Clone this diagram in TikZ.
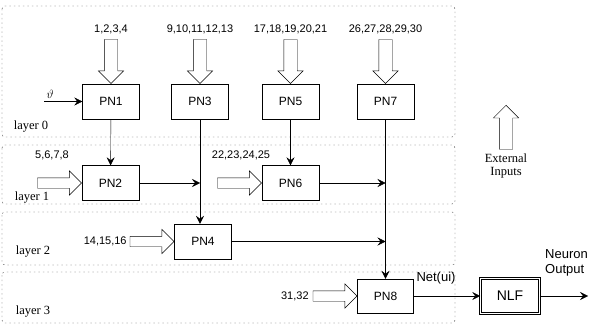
\documentclass[tikz,border=0pt]{standalone}
\usepackage{fontspec}
\setmainfont{Liberation Serif}
\setsansfont{Liberation Sans}
\usepackage{amsmath,amssymb}
\usetikzlibrary{arrows.meta,shapes.arrows,positioning}

\tikzset{
  pn/.style={draw, font=\sffamily\fontsize{12}{12}\selectfont, minimum width=57pt, minimum height=35pt, inner sep=0pt},
  conn/.style={-{Stealth[length=8pt,width=8pt,inset=3pt]}},
  fat/.style={draw, single arrow, single arrow head extend=6pt, single arrow head indent=0pt, minimum height=44pt, inner sep=6.5pt, anchor=tip},
  fatside/.style={fat, inner sep=5pt, single arrow head extend=7pt},
  layerbox/.style={draw=black!75, dash pattern=on 1.5pt off 3pt, rounded corners=3pt},
  num/.style={font=\sffamily\fontsize{11}{11}\selectfont, inner sep=1pt},
  lbl/.style={font=\fontsize{12.5}{13}\selectfont, inner sep=1pt}
}

\begin{document}
\begin{tikzpicture}[x=1pt,y=-1pt]
          \useasboundingbox (0,0) rectangle (591,326);

          \draw[layerbox] (2,6) rectangle (455,137);
          \draw[layerbox] (2,145) rectangle (455,204);
          \draw[layerbox] (2,212) rectangle (455,265);
          \draw[layerbox] (2,272) rectangle (455,323);
          \node[lbl] (l0) at (31,127) {layer 0};
          \node[lbl] (l1) at (32,198) {layer 1};
          \node[lbl] (l2) at (33,252) {layer 2};
          \node[lbl] (l3) at (33,312) {layer 3};

          \node[pn] (pn1) at (111,101.5) {PN1};
          \node[pn] (pn3) at (200,101.5) {PN3};
          \node[pn] (pn5) at (290.5,101.5) {PN5};
          \node[pn] (pn7) at (385.5,101.5) {PN7};
          \node[pn] (pn2) at (110.5,183) {PN2};
          \node[pn] (pn6) at (290.5,183) {PN6};
          \node[pn] (pn4) at (203,241.5) {PN4};
          \node[pn, minimum width=56pt, minimum height=34pt] (pn8) at (385.5,296) {PN8};
          \node[draw, double, double distance=1.1pt, line width=1.1pt, minimum width=58.5pt, minimum height=35.5pt,
                font=\sffamily\fontsize{14}{14}\selectfont] (nlf) at (510,296) {NLF};

          \node[fat, shape border rotate=270] (a1) at (pn1.north) {};
          \node[fat, shape border rotate=270] (a3) at (pn3.north) {};
          \node[fat, shape border rotate=270] (a5) at (pn5.north) {};
          \node[fat, shape border rotate=270] (a7) at (pn7.north) {};
          \node[num, above=4pt of a1.tail] (in1) {1,2,3,4};
          \node[num, above=4pt of a3.tail] (in3) {9,10,11,12,13};
          \node[num, above=4pt of a5.tail] (in5) {17,18,19,20,21};
          \node[num, above=4pt of a7.tail] (in7) {26,27,28,29,30};

          \node[fatside] (a2) at (pn2.west) {};
          \node[fatside] (a6) at (pn6.west) {};
          \node[fatside] (a4) at (pn4.west) {};
          \node[fatside] (a8) at (pn8.west) {};
          \node[num] (in2) at (52,155) {5,6,7,8};
          \node[num] (in6) at (241,155) {22,23,24,25};
          \node[num, left=2pt of a4.tail] (in4) {14,15,16};
          \node[num, left=3pt of a8.tail] (in8) {31,32};

          \node[fat, shape border rotate=90] (a9) at (506,105) {};
          \node[lbl, below=3pt of a9.tail, align=center] (ext) {External\\Inputs};

          \coordinate (thin) at (44,101.5);
          \node[font=\fontsize{13}{13}\selectfont] (th) at (50,94) {$\vartheta$};
          \coordinate (out) at (588,296);
          \node[font=\sffamily\fontsize{13}{13}\selectfont, inner sep=0pt] (net) at (436,278) {Net(ui)};
          \node[font=\sffamily\fontsize{13}{15}\selectfont, align=left, anchor=west, inner sep=0pt] (nout) at (545,263) {Neuron\\Output};

          \draw[conn] (thin) -- (pn1);
          \draw[conn] (pn1) -- (pn2);
          \draw[conn] (pn2) -- (pn2 -| pn3);
          \draw[conn] (pn3) -- (pn3 |- pn4.north);
          \draw[conn] (pn5) -- (pn6);
          \draw[conn] (pn6) -- (pn6 -| pn7);
          \draw[conn] (pn4) -- (pn4 -| pn7);
          \draw[conn] (pn7) -- (pn8);
          \draw[conn] (pn8) -- (nlf);
          \draw[conn] (nlf) -- (out);
\end{tikzpicture}
\end{document}
